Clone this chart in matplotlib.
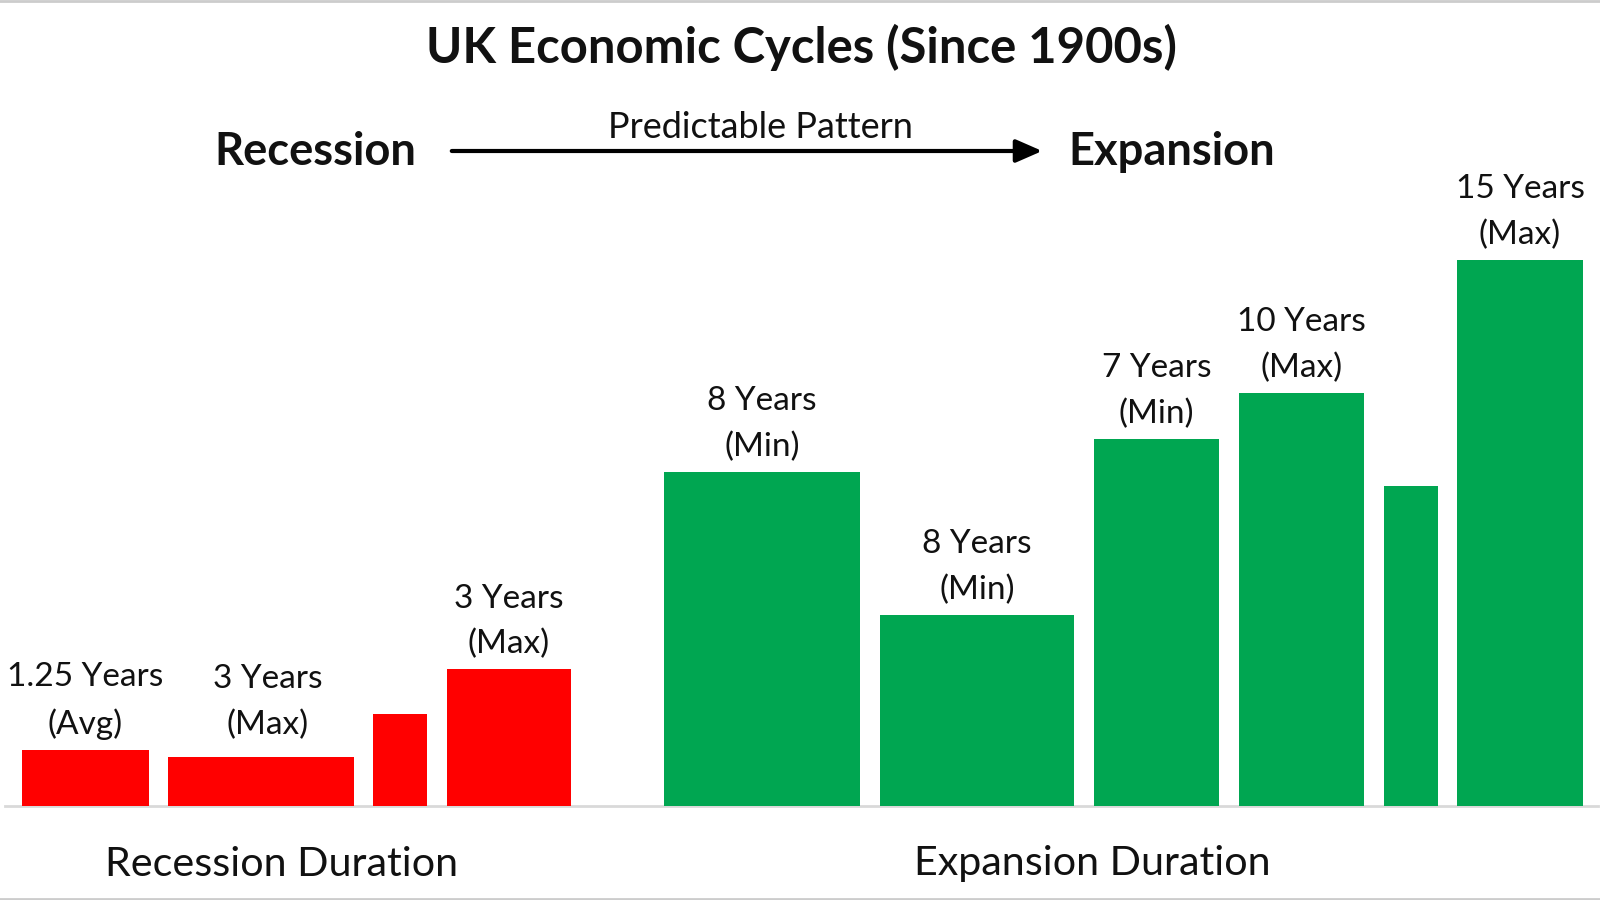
import matplotlib
matplotlib.use("Agg")
import matplotlib.pyplot as plt
from matplotlib.patches import FancyArrowPatch

plt.rcParams['font.family'] = ['Lato', 'DejaVu Sans']

# ---- data ----
recession_heights = [1.54, 1.35, 2.53, 3.76]
expansion_heights = [9.18, 5.25, 10.08, 11.35, 8.79, 15.0]
recession_labels = ["1.25 Years\n(Avg)", "3 Years\n(Max)", "", "3 Years\n(Max)"]
expansion_labels = ["8 Years\n(Min)", "8 Years\n(Min)", "7 Years\n(Min)",
                    "10 Years\n(Max)", "", "15 Years\n(Max)"]
group_titles = ["Recession Duration", "Expansion Duration"]

# ---- layout (figure pixel units) ----
W, H = 1600, 900
recession_left = [22, 168, 373, 447]
recession_width = [127, 186, 54, 124]
expansion_left = [664, 880, 1094, 1239, 1384, 1457]
expansion_width = [196, 194, 125, 125, 54, 126]
# small label nudges in pixels (dx, dy)
recession_nudge = [(0, 0), (7, 7), (0, 0), (0, 0)]
expansion_nudge = [(0, 0)] * 6
baseline_px = 806
px_per_unit = 36.4

RED = "#FF0000"
GREEN = "#00A651"
TXT = "#111111"

fig = plt.figure(figsize=(16, 9), dpi=100)
fig.patch.set_facecolor("white")
ax = fig.add_axes([0, 0, 1, 1])
ax.set_xlim(0, W)
ax.set_ylim(-(H - baseline_px) / px_per_unit, baseline_px / px_per_unit)
ax.axis("off")

ax.bar(recession_left, recession_heights, width=recession_width, align="edge",
       color=RED, edgecolor="none", zorder=3)
ax.bar(expansion_left, expansion_heights, width=expansion_width, align="edge",
       color=GREEN, edgecolor="none", zorder=3)

# baseline
ax.plot([5, 1598], [0, 0], color="#d9d9d9", lw=2, zorder=2)

lab_fs = 24
pt = 72 / 100  # points per pixel
for lefts, widths, hs, labs, nudges in [
        (recession_left, recession_width, recession_heights, recession_labels, recession_nudge),
        (expansion_left, expansion_width, expansion_heights, expansion_labels, expansion_nudge)]:
    for l, w, h, t, (dx, dy) in zip(lefts, widths, hs, labs, nudges):
        if not t:
            continue
        ax.annotate(t, xy=(l + w / 2, h), xytext=(dx * pt, (16 + dy) * pt),
                    textcoords="offset points",
                    ha="center", va="baseline", fontsize=lab_fs, linespacing=1.62,
                    color=TXT, annotation_clip=False)

def fx(px):
    return px / W

def fy(py):
    return 1 - py / H

# group titles under the baseline
fig.text(fx(282), fy(864), group_titles[0], ha="center", va="center", fontsize=29.7, color=TXT)
fig.text(fx(1092), fy(864), group_titles[1], ha="center", va="center", fontsize=29.7, color=TXT)

# title & header
fig.text(fx(801), fy(47), "UK Economic Cycles (Since 1900s)", ha="center", va="center",
         fontsize=35.3, fontweight="bold", color=TXT)
fig.text(fx(315), fy(152), "Recession", ha="center", va="center",
         fontsize=32.6, fontweight="bold", color=TXT)
fig.text(fx(1172), fy(152), "Expansion", ha="center", va="center",
         fontsize=32.6, fontweight="bold", color=TXT)
fig.text(fx(760), fy(127), "Predictable Pattern", ha="center", va="center",
         fontsize=26, color=TXT)
arrow = FancyArrowPatch((fx(449), fy(151)), (fx(1045), fy(151)), transform=fig.transFigure,
                        arrowstyle="-|>,head_length=16,head_width=7", mutation_scale=1,
                        lw=3, color="black")
fig.patches.append(arrow)

# thin frame lines top & bottom
fig.add_artist(plt.Line2D([0, 1], [fy(1), fy(1)], transform=fig.transFigure, color="#cccccc", lw=2))
fig.add_artist(plt.Line2D([0, 1], [fy(899), fy(899)], transform=fig.transFigure, color="#cccccc", lw=2))

fig.savefig("out.png", dpi=100, facecolor="white")
